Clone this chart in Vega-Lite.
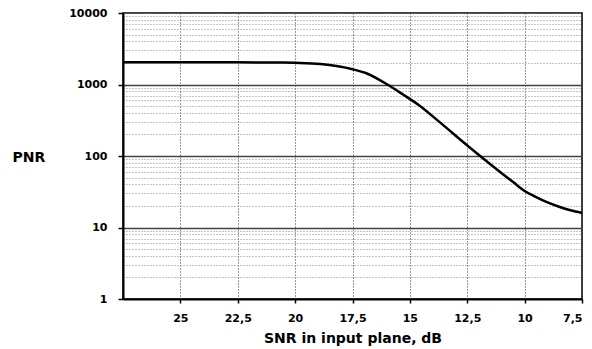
{
  "$schema": "https://vega.github.io/schema/vega-lite/v6.json",
  "width": 459,
  "height": 286,
  "autosize": "none",
  "padding": {"left": 123, "top": 13, "right": 10, "bottom": 50},
  "background": "white",
  "config": {
    "view": {"stroke": "black", "strokeWidth": 1.5},
    "font": "DejaVu Sans",
    "axis": {
      "labelFont": "DejaVu Sans",
      "labelFontWeight": "bold",
      "labelFontSize": 11,
      "labelColor": "black",
      "titleFont": "DejaVu Sans",
      "titleFontWeight": "bold",
      "titleColor": "black",
      "domainColor": "black",
      "domainWidth": 2,
      "tickColor": "black",
      "tickWidth": 1.5
    }
  },
  "data": {
    "values": [
      {"snr": 27.5, "pnr": 2040},
      {"snr": 25, "pnr": 2040},
      {"snr": 22.5, "pnr": 2040},
      {"snr": 20.5, "pnr": 2030},
      {"snr": 20, "pnr": 2010},
      {"snr": 18.9, "pnr": 1930},
      {"snr": 17.5, "pnr": 1633},
      {"snr": 16.9, "pnr": 1435},
      {"snr": 16, "pnr": 1007},
      {"snr": 15.3, "pnr": 724},
      {"snr": 14.56, "pnr": 501},
      {"snr": 13.69, "pnr": 295},
      {"snr": 12.47, "pnr": 138},
      {"snr": 11.94, "pnr": 100},
      {"snr": 11, "pnr": 57.5},
      {"snr": 10.5, "pnr": 43.2},
      {"snr": 10, "pnr": 32.4},
      {"snr": 9.5, "pnr": 26.6},
      {"snr": 9, "pnr": 22.4},
      {"snr": 8.5, "pnr": 19.5},
      {"snr": 8, "pnr": 17.4},
      {"snr": 7.5, "pnr": 16}
    ]
  },
  "mark": {"type": "line", "color": "black", "strokeWidth": 2.5, "interpolate": "monotone"},
  "encoding": {
    "x": {
      "field": "snr",
      "type": "quantitative",
      "scale": {"domain": [27.5, 7.5], "nice": false, "zero": false},
      "axis": {
        "values": [25, 22.5, 20, 17.5, 15, 12.5, 10, 7.5],
        "labelExpr": "replace(format(datum.value, '~g'), '.', ',')",
        "grid": true,
        "gridColor": "#333",
        "gridDash": [1, 2],
        "gridWidth": 1,
        "tickSize": 4,
        "labelPadding": 9,
        "title": "SNR in input plane, dB",
        "titleFontSize": 14,
        "titlePadding": 8
      }
    },
    "y": {
      "field": "pnr",
      "type": "quantitative",
      "scale": {"type": "log", "domain": [1, 10000], "nice": false},
      "axis": {
        "values": [1,2,3,4,5,6,7,8,9,10,20,30,40,50,60,70,80,90,100,200,300,400,500,600,700,800,900,1000,2000,3000,4000,5000,6000,7000,8000,9000,10000],
        "labelExpr": "(datum.value == 1 || datum.value == 10 || datum.value == 100 || datum.value == 1000 || datum.value == 10000) ? format(datum.value, 'd') : ''",
        "grid": true,
        "gridColor": {"condition": {"test": "datum.value == 10 || datum.value == 100 || datum.value == 1000", "value": "#444"}, "value": "#888"},
        "gridDash": {"condition": {"test": "datum.value == 10 || datum.value == 100 || datum.value == 1000", "value": []}, "value": [1, 2]},
        "gridWidth": {"condition": {"test": "datum.value == 10 || datum.value == 100 || datum.value == 1000", "value": 1.5}, "value": 1},
        "tickOpacity": {"condition": {"test": "datum.value == 1 || datum.value == 10 || datum.value == 100 || datum.value == 1000 || datum.value == 10000", "value": 1}, "value": 0},
        "tickSize": 5,
        "labelPadding": 11,
        "title": "PNR",
        "titleFontSize": 14,
        "titleAngle": 0,
        "titleAlign": "left",
        "titleBaseline": "middle",
        "titleX": -111,
        "titleY": 144
      }
    }
  }
}
